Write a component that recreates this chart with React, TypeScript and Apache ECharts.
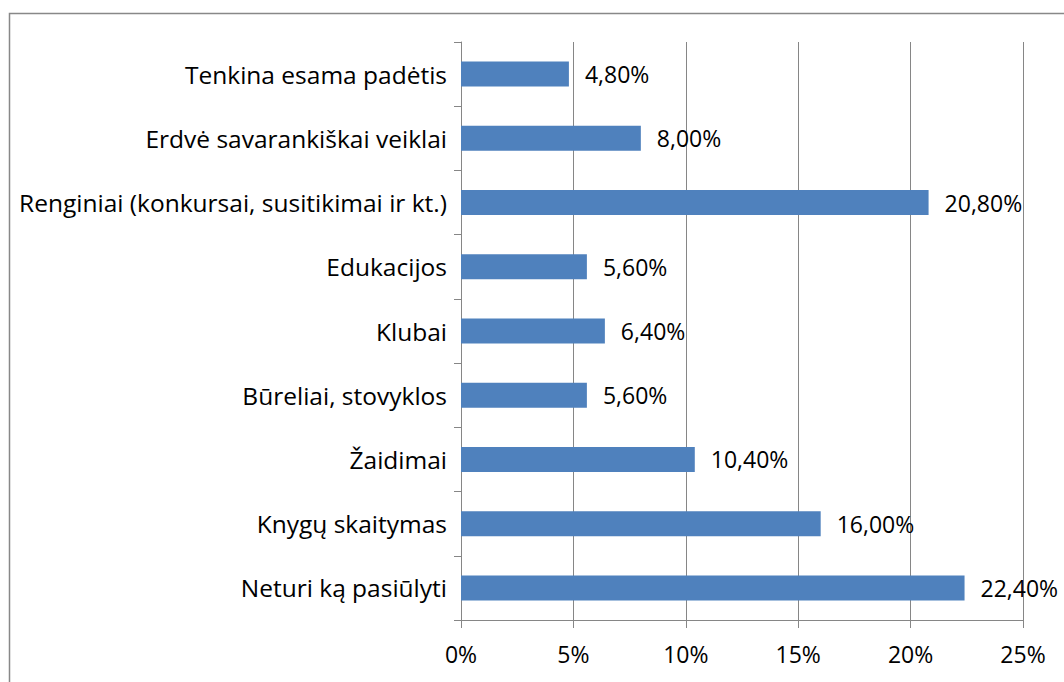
import React, { useEffect, useRef } from "react";
import * as echarts from "echarts";

const categories = [
  "Neturi ką pasiūlyti",
  "Knygų skaitymas",
  "Žaidimai",
  "Būreliai, stovyklos",
  "Klubai",
  "Edukacijos",
  "Renginiai (konkursai, susitikimai ir kt.)",
  "Erdvė savarankiškai veiklai",
  "Tenkina esama padėtis",
];
const values = [22.4, 16.0, 10.4, 5.6, 6.4, 5.6, 20.8, 8.0, 4.8];

const FONT = "'Open Sans', 'Noto Sans', sans-serif";

export default function App() {
  const ref = useRef<HTMLDivElement>(null);
  useEffect(() => {
    document.body.style.margin = "0";
    const chart = echarts.init(ref.current!, null, { renderer: "svg" });
    chart.setOption({
      animation: false,
      backgroundColor: "#ffffff",
      graphic: [
        {
          type: "rect",
          shape: { x: 9.5, y: 13.5, width: 1060, height: 680 },
          style: { fill: "none", stroke: "#888888", lineWidth: 1.5 },
          silent: true,
        },
      ],
      grid: { left: 461, right: 41, top: 42, bottom: 62 },
      xAxis: {
        type: "value",
        min: 0,
        max: 25,
        interval: 5,
        axisLine: { show: true, lineStyle: { color: "#868686", width: 1 } },
        axisTick: { show: true, length: 8, lineStyle: { color: "#868686" } },
        splitLine: { show: true, lineStyle: { color: "#868686", width: 1 } },
        axisLabel: {
          formatter: (v: number) => `${v}%`,
          color: "#000",
          fontFamily: FONT,
          fontSize: 23,
          margin: 22,
        },
      },
      yAxis: {
        type: "category",
        data: categories,
        axisLine: { show: true, lineStyle: { color: "#868686", width: 1 } },
        axisTick: { show: true, length: 7, lineStyle: { color: "#868686" } },
        axisLabel: {
          color: "#000",
          fontFamily: FONT,
          fontSize: 24.5,
          margin: 14,
        },
      },
      series: [
        {
          type: "bar",
          data: values,
          barWidth: 25,
          itemStyle: { color: "#4f81bd" },
          label: {
            show: true,
            position: "right",
            distance: 16,
            color: "#000",
            fontFamily: FONT,
            fontSize: 23,
            formatter: (p: any) => p.value.toFixed(2).replace(".", ",") + "%",
          },
        },
      ],
    });
    return () => chart.dispose();
  }, []);
  return <div ref={ref} style={{ width: 1064, height: 682 }} />;
}
